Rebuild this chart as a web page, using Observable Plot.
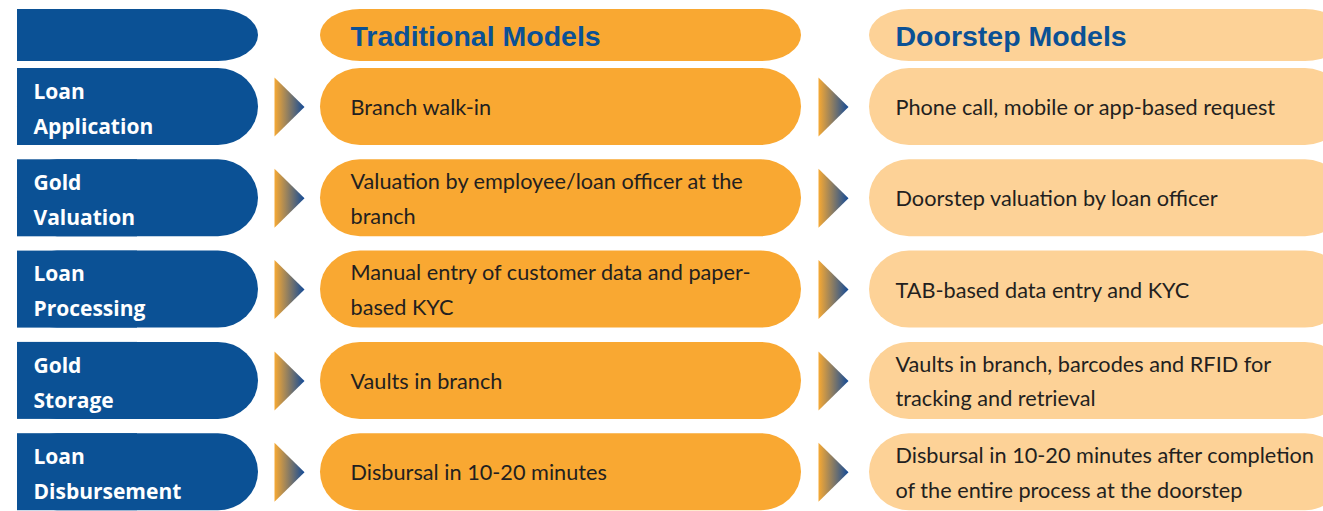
<!DOCTYPE html>
<html>
<head>
<meta charset="utf-8">
<script src="https://cdn.jsdelivr.net/npm/d3@7"></script>
<script src="https://cdn.jsdelivr.net/npm/@observablehq/plot@0.6"></script>
<style>
  html, body { margin: 0; padding: 0; background: #ffffff; overflow: hidden; }
</style>
</head>
<body>
<div id="chart"></div>
<script>
// ---- data ----
const headers = ["Traditional Models", "Doorstep Models"];
const stages = ["Loan\nApplication", "Gold\nValuation", "Loan\nProcessing", "Gold\nStorage", "Loan\nDisbursement"];
const traditional = [
  "Branch walk-in",
  "Valuation by employee/loan officer at the\nbranch",
  "Manual entry of customer data and paper-\nbased KYC",
  "Vaults in branch",
  "Disbursal in 10-20 minutes"
];
const doorstep = [
  "Phone call, mobile or app-based request",
  "Doorstep valuation by loan officer",
  "TAB-based data entry and KYC",
  "Vaults in branch, barcodes and RFID for\ntracking and retrieval",
  "Disbursal in 10-20 minutes after completion\nof the entire process at the doorstep"
];

// ---- layout (positions / styles) ----
const W = 1323, H = 511;
const layout = {
  headTop: 9, headH: 52,
  rowTop0: 68, rowStep: 91.3, rowH: 77,
  labelX: [17, 258], tradX: [320, 801], doorX: [869, 1345],
  arrows: [[274, 304], [818, 848]], arrowInset: 9,
  labelTextX: 33, tradTextX: 350, doorTextX: 895
};
const colors = { blue: "#0B5195", orange: "#F9A832", light: "#FDD297", text: "#231F20" };

const rows = stages.map((s, i) => {
  const top = layout.rowTop0 + i * layout.rowStep;
  return { stage: s, trad: traditional[i], door: doorstep[i], top, bottom: top + layout.rowH, mid: top + layout.rowH / 2 };
});
const head = [{ top: layout.headTop, bottom: layout.headTop + layout.headH, mid: layout.headTop + layout.headH / 2 }];
const headTitles = headers.map((h, j) => ({ title: h, x: j === 0 ? layout.tradTextX : layout.doorTextX, y: head[0].mid }));

const arrowPts = [];
rows.forEach((r, i) => {
  layout.arrows.forEach((a, j) => {
    const id = i + "-" + j;
    arrowPts.push({ id, x: a[0], y: r.top + layout.arrowInset });
    arrowPts.push({ id, x: a[1], y: r.mid });
    arrowPts.push({ id, x: a[0], y: r.bottom - layout.arrowInset });
  });
});

const bodyFont = "Lato, 'Open Sans', sans-serif";
const allBoxes = head.concat(rows);

const plot = Plot.plot({
  width: W, height: H,
  marginTop: 0, marginRight: 0, marginBottom: 0, marginLeft: 0,
  x: { domain: [0, W], range: [0, W], axis: null },
  y: { domain: [0, H], range: [0, H], axis: null },
  style: { overflow: "hidden", background: "#ffffff" },
  marks: [
    // blue label column (rounded right, square left)
    Plot.rect(allBoxes, { x1: layout.labelX[0], x2: layout.labelX[1], y1: "top", y2: "bottom", rx: 40, fill: colors.blue }),
    Plot.rect(allBoxes, { x1: layout.labelX[0], x2: layout.labelX[0] + 120, y1: "top", y2: "bottom", fill: colors.blue }),
    // traditional column
    Plot.rect(allBoxes, { x1: layout.tradX[0], x2: layout.tradX[1], y1: "top", y2: "bottom", rx: 40, fill: colors.orange }),
    // doorstep column
    Plot.rect(allBoxes, { x1: layout.doorX[0], x2: layout.doorX[1], y1: "top", y2: "bottom", rx: 40, fill: colors.light }),
    // arrows
    Plot.line(arrowPts, { x: "x", y: "y", z: "id", curve: "linear-closed", fill: "url(#arrowGrad)", stroke: "none" }),
    // header titles
    Plot.text(headTitles, { x: "x", y: "y", text: "title", textAnchor: "start", fontSize: 28.5, fontWeight: "bold",
      fontFamily: "'Liberation Sans', Arial, sans-serif", fill: colors.blue, dy: 1 }),
    // stage labels
    Plot.text(rows, { x: layout.labelTextX, y: "mid", text: "stage", textAnchor: "start", lineAnchor: "middle",
      lineHeight: 1.67, fontSize: 21, fontWeight: "bold", fontFamily: "'Open Sans', Lato, sans-serif", fill: "#ffffff", dy: -2 }),
    // traditional text
    Plot.text(rows, { x: layout.tradTextX, y: "mid", text: "trad", textAnchor: "start", lineAnchor: "middle",
      lineHeight: 1.6, fontSize: 21.7, fontFamily: bodyFont, fill: colors.text, dy: -3 }),
    // doorstep text
    Plot.text(rows, { x: layout.doorTextX, y: "mid", text: "door", textAnchor: "start", lineAnchor: "middle",
      lineHeight: 1.6, fontSize: 21.7, fontFamily: bodyFont, fill: colors.text, dy: -3 })
  ]
});

// gradient for arrows
const defs = d3.select(plot).insert("defs", ":first-child");
const g = defs.append("linearGradient").attr("id", "arrowGrad").attr("x1", "0").attr("x2", "1").attr("y1", "0").attr("y2", "0");
g.append("stop").attr("offset", "0%").attr("stop-color", "#F6A934");
g.append("stop").attr("offset", "100%").attr("stop-color", "#124A98");

document.getElementById("chart").appendChild(plot);
</script>
</body>
</html>
